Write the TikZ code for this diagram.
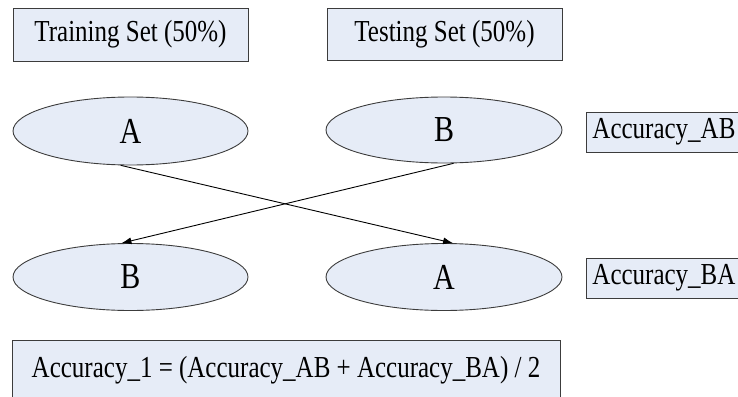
\documentclass[tikz,border=0pt]{standalone}
\usepackage{fontspec}
\setmainfont{Liberation Serif}
\usetikzlibrary{arrows.meta,positioning,shapes.geometric}
\definecolor{setfill}{RGB}{230,236,247}
\definecolor{setline}{RGB}{60,60,60}
\newcommand{\tallt}[1]{\scalebox{1}[1.22]{#1}}
\tikzset{
  setbox/.style={draw=setline,line width=0.9pt,fill=setfill,rectangle,inner sep=0pt,font=\fontsize{25}{28}\selectfont},
  setell/.style={draw=setline,line width=0.9pt,fill=setfill,ellipse,inner sep=0pt,font=\fontsize{30}{34}\selectfont},
  swap/.style={-{Latex[length=10pt,width=7pt]},line width=0.9pt}
}

\begin{document}
\begin{tikzpicture}[x=1pt,y=-1pt]
      \useasboundingbox (0,0) rectangle (738,396);
      \clip (0,0) rectangle (738,396);
      \node[setbox,minimum width=235pt,minimum height=53pt] (train) at (130.5,34.5) {\tallt{Training Set (50\%)}};
      \node[setbox,minimum width=235pt,minimum height=52pt] (test) at (444.5,34) {\tallt{Testing Set (50\%)}};
      \node[setell,minimum width=235pt,minimum height=68pt] (atop) at (130.5,131) {\tallt{A}};
      \node[setell,minimum width=236pt,minimum height=66pt] (btop) at (444,130) {\tallt{B}};
      \node[setell,minimum width=235pt,minimum height=67pt] (bbot) at (130.5,277) {\tallt{B}};
      \node[setell,minimum width=236pt,minimum height=67pt] (abot) at (444,277) {\tallt{A}};
      \node[setbox,anchor=west,minimum height=40pt,inner xsep=6pt] (accab) at (586,132) {\tallt{Accuracy\_AB}};
      \node[setbox,anchor=west,minimum height=40pt,inner xsep=6pt] (accba) at (586,278) {\tallt{Accuracy\_BA}};
      \node[setbox,minimum width=548pt,minimum height=60pt] (acc) at (286,370) {\tallt{Accuracy\_1 = (Accuracy\_AB + Accuracy\_BA) / 2}};
      \draw[swap] (atop.254) -- (abot.75);
      \draw[swap] (btop.286) -- (bbot.105);
\end{tikzpicture}
\end{document}
